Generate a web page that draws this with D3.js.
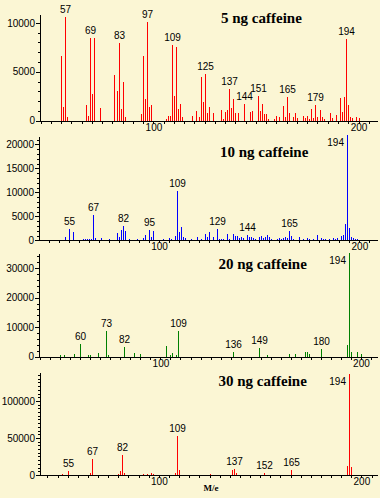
<!DOCTYPE html>
<html><head><meta charset="utf-8">
<script src="https://cdn.jsdelivr.net/npm/d3@7"></script>
<style>
html,body{margin:0;padding:0;background:#fbf6d4;}
svg{display:block;}
</style></head>
<body>
<svg id="chart" width="380" height="498"></svg>
<script>
// ---------- DATA ----------
const titles = ["5 ng caffeine","10 ng caffeine","20 ng caffeine","30 ng caffeine"];
const colors = ["#ff0000","#0000ff","#008000","#ff0000"];

const mz1 = [55,56,57,58,67,68,69,70,71,74,81,82,83,84,85,86,94,95,96,97,98,99,106,107,108,109,110,111,112,113,114,
  119,121,122,123,124,125,126,127,129,133,134,135,136,137,138,139,140,141,144,147,148,151,152,153,154,155,156,159,160,161,
  163,164,165,166,168,169,170,173,174,175,176,177,178,179,180,181,182,183,186,187,189,191,192,193,194,195,196,197,199,200];
const int1 = [6600,1430,10600,410,1600,510,8470,2720,8470,1330,4660,3060,7960,1220,3980,410,680,6600,2210,10070,1400,1600,200,480,480,7720,2520,7520,1190,1700,410,
  480,990,350,4460,1900,4760,820,1400,820,1090,170,890,1090,3230,1300,2210,790,790,1700,890,990,2520,990,1700,680,680,170,170,480,380,
  1500,380,2420,790,380,790,270,480,270,480,170,1190,270,1600,380,1090,380,170,790,270,580,2310,890,2420,8330,1600,380,270,380,270];
const lab1 = [57,69,83,97,109,125,137,144,151,165,179,194];

const mz2 = [53,55,57,62,63,64,65,66,67,68,71,75,79,80,81,82,83,85,89,92,93,95,96,97,102,105,106,108,109,110,111,112,113,
  116,119,121,123,124,125,127,129,130,131,132,134,135,137,138,139,140,141,142,144,145,146,147,148,150,151,152,153,154,155,156,
  159,160,161,162,163,164,165,166,167,170,172,174,175,177,179,181,182,183,185,187,188,189,191,192,193,194,195,196,197,198,199];
const int2 = [700,2360,1740,280,280,280,280,280,5280,490,490,280,1530,700,2150,2990,1950,280,280,490,1110,2150,700,1950,280,490,280,900,10290,1740,2780,700,490,
  280,700,280,1320,700,1740,700,2360,280,280,280,1320,280,1320,900,900,490,700,490,1110,700,700,490,280,700,900,490,700,1110,700,280,
  280,490,280,490,700,490,1950,900,280,700,280,490,280,280,1110,490,280,280,280,490,280,490,900,1110,3400,21890,2570,700,490,280,280];
const lab2 = [55,67,82,95,109,129,144,165,194];

const mz3 = [50,52,57,60,64,65,69,73,74,82,87,90,103,105,106,108,109,136,149,153,164,167,172,173,174,180,193,194,195,198,200];
const int3 = [450,450,900,4180,450,450,1240,8700,450,3280,1240,900,3620,450,1240,450,8700,1580,2940,450,900,900,1580,1580,900,2600,3960,35260,1580,1580,900];
const lab3 = [60,73,82,109,136,149,180,194];

const mz4 = [52,55,66,67,80,81,82,83,90,92,94,96,97,108,109,110,121,125,136,137,138,152,162,165,181,190,193,194,195];
const int4 = [1330,5330,2670,21300,1330,5330,26640,2670,500,1330,1330,2670,1330,2670,52400,6660,500,1330,6660,8000,2670,2670,500,6660,500,500,12000,136800,10660];
const lab4 = [55,67,82,109,137,152,165,194];

const yTicks1 = [0,5000,10000], yMinor1 = 1000;
const yTicks2 = [0,5000,10000,15000,20000], yMinor2 = 1000;
const yTicks3 = [0,10000,20000,30000], yMinor3 = 2000;
const yTicks4 = [0,50000,100000], yMinor4 = 5000;
const xTickLabels = [100,200];
const xLabel = "M/e";

// ---------- LAYOUT ----------
const layout = [
  {x0:40, x1:378, dom:[44.7,209.5], top:15,    base:120.7, ymax:10800,  title:[221,23]},
  {x0:39, x1:378, dom:[40.1,209.3], top:137.3, base:240.3, ymax:21475,  title:[220,156.5]},
  {x0:39.3,x1:378,dom:[39.6,208.5], top:254,   base:356.7, ymax:34800,  title:[218.5,268.5]},
  {x0:40, x1:378, dom:[41.3,208.2], top:373.3, base:475,   ymax:137400, title:[218.5,386]}
];
const series = [
  {mz:mz1,val:int1,lab:lab1,yt:yTicks1,ym:yMinor1},
  {mz:mz2,val:int2,lab:lab2,yt:yTicks2,ym:yMinor2},
  {mz:mz3,val:int3,lab:lab3,yt:yTicks3,ym:yMinor3},
  {mz:mz4,val:int4,lab:lab4,yt:yTicks4,ym:yMinor4}
];

const svg = d3.select("#chart");
svg.append("rect").attr("width",380).attr("height",498).attr("fill","#fbf6d4");

series.forEach((s,i)=>{
  const L = layout[i];
  const x = d3.scaleLinear().domain(L.dom).range([L.x0,L.x1]);
  const y = d3.scaleLinear().domain([0,L.ymax]).range([L.base,L.top]);
  const g = svg.append("g");
  const px = v => Math.round(x(v))+0.5;

  // bars
  const data = s.mz.map((m,k)=>({m, v:s.val[k]}));
  g.selectAll("line.bar").data(data).join("line")
    .attr("class","bar")
    .attr("x1",d=>px(d.m)).attr("x2",d=>px(d.m))
    .attr("y1",Math.round(L.base)).attr("y2",d=>y(d.v))
    .attr("stroke",colors[i]).attr("stroke-width",1)
    .attr("shape-rendering","crispEdges");

  // x axis
  const ax = Math.round(L.base)+0.5;
  const xa = d3.axisBottom(x).tickValues(xTickLabels).tickSize(3).tickFormat(d3.format("d"));
  const xg = g.append("g").attr("transform",`translate(0,${Math.round(L.base)})`).call(xa);
  xg.select(".domain").remove();
  xg.selectAll("text").attr("font-family","Liberation Sans, Arial, sans-serif").attr("font-size",10).attr("fill","#000").attr("dy","0.71em").attr("y",3);
  xg.selectAll("line").attr("stroke","#000").attr("shape-rendering","crispEdges");
  // minor x ticks
  const minorX = d3.range(Math.ceil(L.dom[0]/5)*5, L.dom[1], 5);
  g.selectAll("line.mx").data(minorX).join("line").attr("class","mx")
    .attr("x1",d=>px(d)).attr("x2",d=>px(d))
    .attr("y1",ax).attr("y2",ax+2.5)
    .attr("stroke","#000").attr("shape-rendering","crispEdges");
  g.append("line").attr("x1",L.x0).attr("x2",L.x1).attr("y1",ax).attr("y2",ax)
    .attr("stroke","#000").attr("shape-rendering","crispEdges");

  // y axis
  const yx = Math.round(L.x0)+0.5;
  const ya = d3.axisLeft(y).tickValues(s.yt).tickSize(4).tickFormat(d3.format("d"));
  const yg = g.append("g").attr("transform",`translate(${Math.round(L.x0)},0)`).call(ya);
  yg.select(".domain").remove();
  yg.selectAll("text").attr("font-family","Liberation Sans, Arial, sans-serif").attr("font-size",10).attr("fill","#000").attr("x",-5);
  yg.selectAll("line").attr("stroke","#000").attr("shape-rendering","crispEdges");
  const minorY = d3.range(0, L.ymax, s.ym);
  g.selectAll("line.my").data(minorY).join("line").attr("class","my")
    .attr("x1",yx-2.5).attr("x2",yx)
    .attr("y1",d=>Math.round(y(d))+0.5).attr("y2",d=>Math.round(y(d))+0.5)
    .attr("stroke","#000").attr("shape-rendering","crispEdges");
  g.append("line").attr("x1",yx).attr("x2",yx).attr("y1",L.top).attr("y2",ax)
    .attr("stroke","#000").attr("shape-rendering","crispEdges");

  // peak labels
  s.lab.forEach(m=>{
    const v = s.val[s.mz.indexOf(m)];
    const top = y(v);
    const t = g.append("text").text(m)
      .attr("font-family","Liberation Sans, Arial, sans-serif").attr("font-size",10).attr("fill","#000");
    if (m===194 && i>0) {
      t.attr("x",px(m)-3.5).attr("y",top+11).attr("text-anchor","end");
    } else {
      t.attr("x",px(m)).attr("y",top-4).attr("text-anchor","middle");
    }
  });

  // title
  g.append("text").text(titles[i])
    .attr("x",L.title[0]).attr("y",L.title[1])
    .attr("font-family","Liberation Serif, Times New Roman, serif")
    .attr("font-weight","bold").attr("font-size",15).attr("fill","#000");
});

svg.append("text").text(xLabel).attr("x",211).attr("y",491).attr("text-anchor","middle")
  .attr("font-family","Liberation Serif, Times New Roman, serif").attr("font-weight","bold")
  .attr("font-size",9).attr("fill","#000");
</script>
</body></html>
